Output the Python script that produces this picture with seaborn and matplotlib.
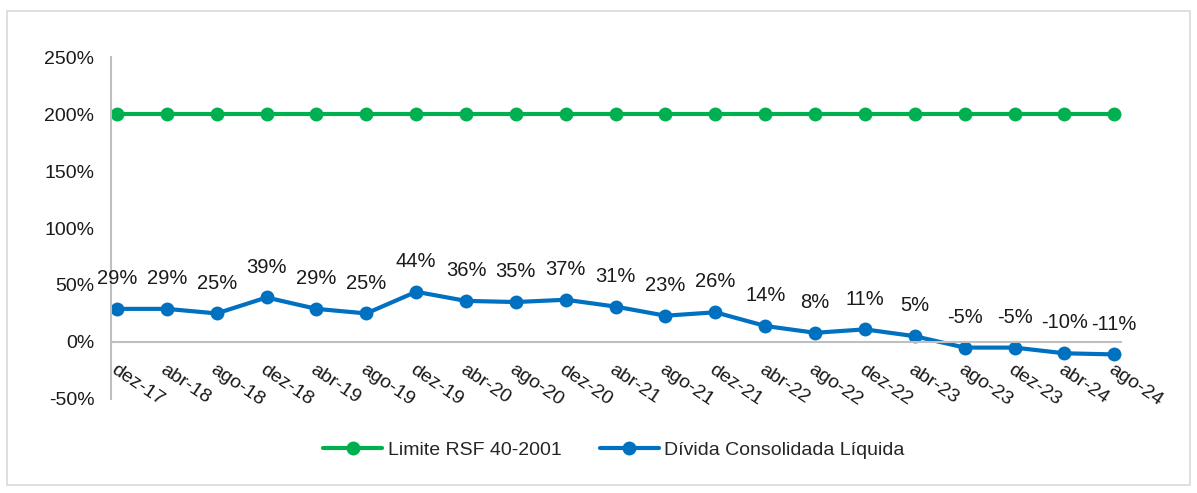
import numpy as np
import pandas as pd
import seaborn as sns
import matplotlib.pyplot as plt
from matplotlib.patches import Rectangle
from matplotlib.ticker import FuncFormatter

# Chart data.
periods = ["dez-17", "abr-18", "ago-18", "dez-18", "abr-19", "ago-19", "dez-19",
           "abr-20", "ago-20", "dez-20", "abr-21", "ago-21", "dez-21", "abr-22",
           "ago-22", "dez-22", "abr-23", "ago-23", "dez-23", "abr-24", "ago-24"]
limite = [200] * 21
divida = [29, 29, 25, 39, 29, 25, 44, 36, 35, 37, 31, 23, 26, 14, 8, 11, 5,
          -5, -5, -10, -11]
series_names = ["Limite RSF 40-2001", "Dívida Consolidada Líquida"]
colors = ["#00b050", "#0070c0"]

sns.set_theme(style="white")
plt.rcParams['font.family'] = ['Liberation Sans', 'DejaVu Sans']

# Long format table for seaborn.
df = pd.DataFrame({
    "idx": list(range(len(periods))) * 2,
    "valor": limite + divida,
    "serie": [series_names[0]] * len(periods) + [series_names[1]] * len(periods),
})

fig = plt.figure(figsize=(11.97, 4.93), dpi=100)
ax = fig.add_axes([0.0927, 0.191, 0.844, 0.693])

sns.lineplot(data=df, x="idx", y="valor", hue="serie", hue_order=series_names,
             palette=colors, marker="o", markersize=10, markeredgewidth=0,
             linewidth=3, ax=ax, legend=True)

# Data labels for the debt series only.
for i, v in enumerate(divida):
    ax.annotate(f"{v}%", (i, v), xytext=(0, 15), textcoords="offset points",
                ha="center", va="bottom", fontsize=14.5, color="#1a1a1a")

ax.set_xlim(-0.12, len(periods) - 1 + 0.14)
ax.set_ylim(-50, 250)
ax.set_yticks(np.arange(-50, 251, 50))
ax.yaxis.set_major_formatter(FuncFormatter(lambda v, p: f"{v:.0f}%"))
ax.set_xticks(range(len(periods)))
ax.set_xticklabels(periods)
ax.set_xlabel("")
ax.set_ylabel("")

# Category axis crosses at zero.
for s in ["top", "right"]:
    ax.spines[s].set_visible(False)
ax.spines["bottom"].set_position(("data", 0))
ax.spines["bottom"].set_color("#bfbfbf")
ax.spines["left"].set_color("#bfbfbf")
ax.spines["bottom"].set_linewidth(1.5)
ax.spines["left"].set_linewidth(1.5)
ax.tick_params(axis="both", length=0, labelsize=14, colors="#1a1a1a")
ax.tick_params(axis="x", pad=14, labelrotation=-34)
ax.tick_params(axis="y", pad=12)
plt.setp(ax.get_xticklabels(), ha="left", va="top", rotation_mode="anchor")

ax.legend(loc="center", bbox_to_anchor=(0.513, 0.087),
          bbox_transform=fig.transFigure, ncol=2, frameon=False,
          fontsize=14, handlelength=3.0, columnspacing=2.0, handletextpad=0.3)

# Outer chart border.
fig.patches.append(Rectangle((0.006, 0.016), 0.988, 0.962, transform=fig.transFigure,
                             fill=False, edgecolor="#d9d9d9", linewidth=1.2))

fig.savefig("out.png", dpi=100)
